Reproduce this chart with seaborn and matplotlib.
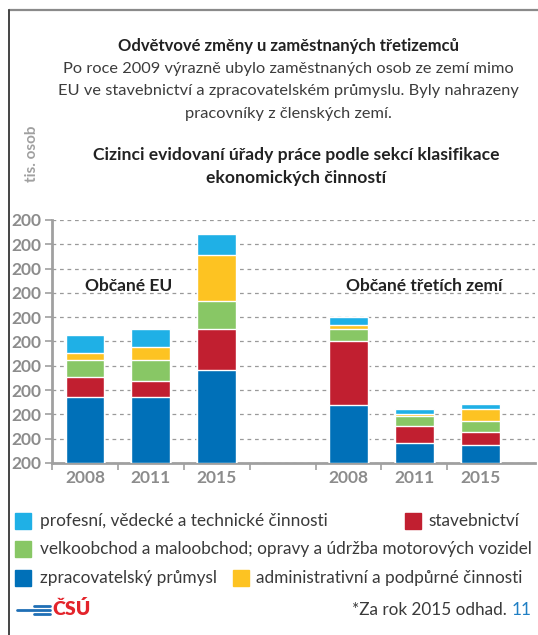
import matplotlib.pyplot as plt
import matplotlib.lines as mlines
import matplotlib.patches as mpatches
import seaborn as sns
import pandas as pd

# --- data (units of the chart grid) ---
groups = ["EU", "EU", "EU", "TZ", "TZ", "TZ"]
years = ["2008", "2011", "2015", "2008", "2011", "2015"]
zpracovatelsky = [2.72, 2.72, 3.83, 2.37, 0.82, 0.74]
stavebnictvi = [0.82, 0.65, 1.68, 2.65, 0.70, 0.54]
velkoobchod = [0.70, 0.87, 1.15, 0.49, 0.41, 0.45]
administrativni = [0.29, 0.53, 1.90, 0.17, 0.10, 0.49]
profesni = [0.74, 0.74, 0.86, 0.33, 0.19, 0.21]
ytick_labels = ["200"] * 11

sectors = [
    ("zpracovatelský průmysl", zpracovatelsky, "#0070b8"),
    ("stavebnictví", stavebnictvi, "#c11f30"),
    ("velkoobchod a maloobchod; opravy a údržba motorových vozidel", velkoobchod, "#88c765"),
    ("administrativní a podpůrné činnosti", administrativni, "#fdc322"),
    ("profesní, vědecké a technické činnosti", profesni, "#1fb0e6"),
]

df = pd.DataFrame({"group": groups, "year": years})
df["slot"] = df["group"] + " " + df["year"]
order = list(df["slot"][:3]) + ["gap"] + list(df["slot"][3:])

# cumulative tops for stacking
running = [0.0] * len(df)
for name, vals, color in sectors:
    running = [r + v for r, v in zip(running, vals)]
    df[name] = running

sns.set_style("white")
plt.rcParams["font.family"] = ["Lato", "DejaVu Sans"]

fig = plt.figure(figsize=(5.38, 6.35), dpi=100)
ax = fig.add_axes([52 / 538, 0.2709, 483 / 538, 0.3827])

# draw from the top layer down so lower layers cover upper ones
for name, vals, color in reversed(sectors):
    sns.barplot(data=df, x="slot", y=name, order=order, color=color,
                width=0.59, saturation=1, ax=ax, zorder=3)

ax.set_ylim(0, 10)
ax.set_xlim(-0.5, 6.83)
ax.set_yticks(range(11))
ax.set_yticklabels(ytick_labels)
ax.set_xticks([0, 1, 2, 4, 5, 6])
ax.set_xticklabels(years)
ax.set_xticks([-0.5, 0.5, 1.5, 2.5, 3.5, 4.5, 5.5], minor=True)
ax.set_xlabel("")
ax.set_ylabel("")

grey = "#8c8c8c"
for t in ax.get_yticklabels() + ax.get_xticklabels():
    t.set_fontweight("bold")
    t.set_fontsize(12.5)
    t.set_color(grey)
ax.tick_params(axis="y", length=5, width=1.2, color="#a0a0a0", pad=3, left=True)
ax.tick_params(axis="x", which="major", length=0, pad=5)
ax.tick_params(axis="x", which="minor", length=5, width=1.2, color="#a0a0a0", bottom=True)

ax.grid(axis="y", linestyle=(0, (3, 3)), color="#9a9a9a", linewidth=0.9, zorder=0)
ax.set_axisbelow(True)
for s in ["top", "right"]:
    ax.spines[s].set_visible(False)
for s in ["left", "bottom"]:
    ax.spines[s].set_color("#a0a0a0")
    ax.spines[s].set_linewidth(2)

ax.text(0.66, 7.3, "Občané EU", ha="center", va="center", fontsize=12.5,
        fontweight="bold", color="#222222")
ax.text(5.15, 7.3, "Občané třetích zemí", ha="center", va="center", fontsize=12.5,
        fontweight="bold", color="#222222")

# titles
dark = "#222222"
fig.text(0.536, 1 - 46 / 635, "Odvětvové změny u zaměstnaných třetizemců", ha="center",
         va="center", fontsize=12, fontweight="bold", color=dark)
sub = ["Po roce 2009 výrazně ubylo zaměstnaných osob ze zemí mimo",
       "EU ve stavebnictví a zpracovatelském průmyslu. Byly nahrazeny",
       "pracovníky z členských zemí."]
for i, line in enumerate(sub):
    fig.text(0.536, 1 - (69 + 22.5 * i) / 635, line, ha="center", va="center",
             fontsize=11.8, color="#3c3c3c")
fig.text(0.551, 1 - 155 / 635, "Cizinci evidovaní úřady práce podle sekcí klasifikace",
         ha="center", va="center", fontsize=12.6, fontweight="bold", color=dark)
fig.text(0.551, 1 - 178 / 635, "ekonomických činností", ha="center", va="center",
         fontsize=12.6, fontweight="bold", color=dark)
fig.text(32 / 538, 1 - 154 / 635, "tis. osob", rotation=90, ha="center", va="center",
         fontsize=11, fontweight="bold", color="#a0a0a0")

# legend (laid out like the reference)
leg_items = [
    (sectors[4], 15, 521, 40),
    (sectors[1], 405, 521, 428),
    (sectors[2], 15, 549, 40),
    (sectors[0], 15, 578, 40),
    (sectors[3], 233, 578, 256),
]
for (name, vals, color), xs, yc, xt in leg_items:
    fig.patches.append(mpatches.Rectangle((xs / 538, 1 - (yc + 8) / 635), 16 / 538, 16 / 635,
                                          transform=fig.transFigure, color=color))
    fig.text(xt / 538, 1 - yc / 635, name, ha="left", va="center", fontsize=12.4,
             color="#3a3a3a")

# footer: logo and note
blue = "#1f6fb5"
fig.lines.append(mlines.Line2D([17 / 538, 50 / 538], [1 - 609.5 / 635] * 2,
                               transform=fig.transFigure, color=blue, linewidth=2))
for yy in [605.5, 613.5]:
    fig.lines.append(mlines.Line2D([34 / 538, 50 / 538], [1 - yy / 635] * 2,
                                   transform=fig.transFigure, color=blue, linewidth=2))
fig.text(52 / 538, 1 - 609 / 635, "ČSÚ", ha="left", va="center", fontsize=14,
         fontweight="heavy", color="#e3242b")
fig.text(507 / 538, 1 - 610 / 635, "*Za rok 2015 odhad.", ha="right", va="center",
         fontsize=12.3, color="#3a3a3a")
fig.text(512 / 538, 1 - 610 / 635, "11", ha="left", va="center", fontsize=12.3,
         color="#1f7fc4")

# frame
fig.lines.append(mlines.Line2D([9 / 538, 1], [1 - 9.5 / 635] * 2, transform=fig.transFigure,
                               color="#8a8a8a", linewidth=1.6))
fig.lines.append(mlines.Line2D([9 / 538] * 2, [0, 1 - 9.5 / 635], transform=fig.transFigure,
                               color="#444444", linewidth=1.4))

fig.savefig("out.png", dpi=100)
